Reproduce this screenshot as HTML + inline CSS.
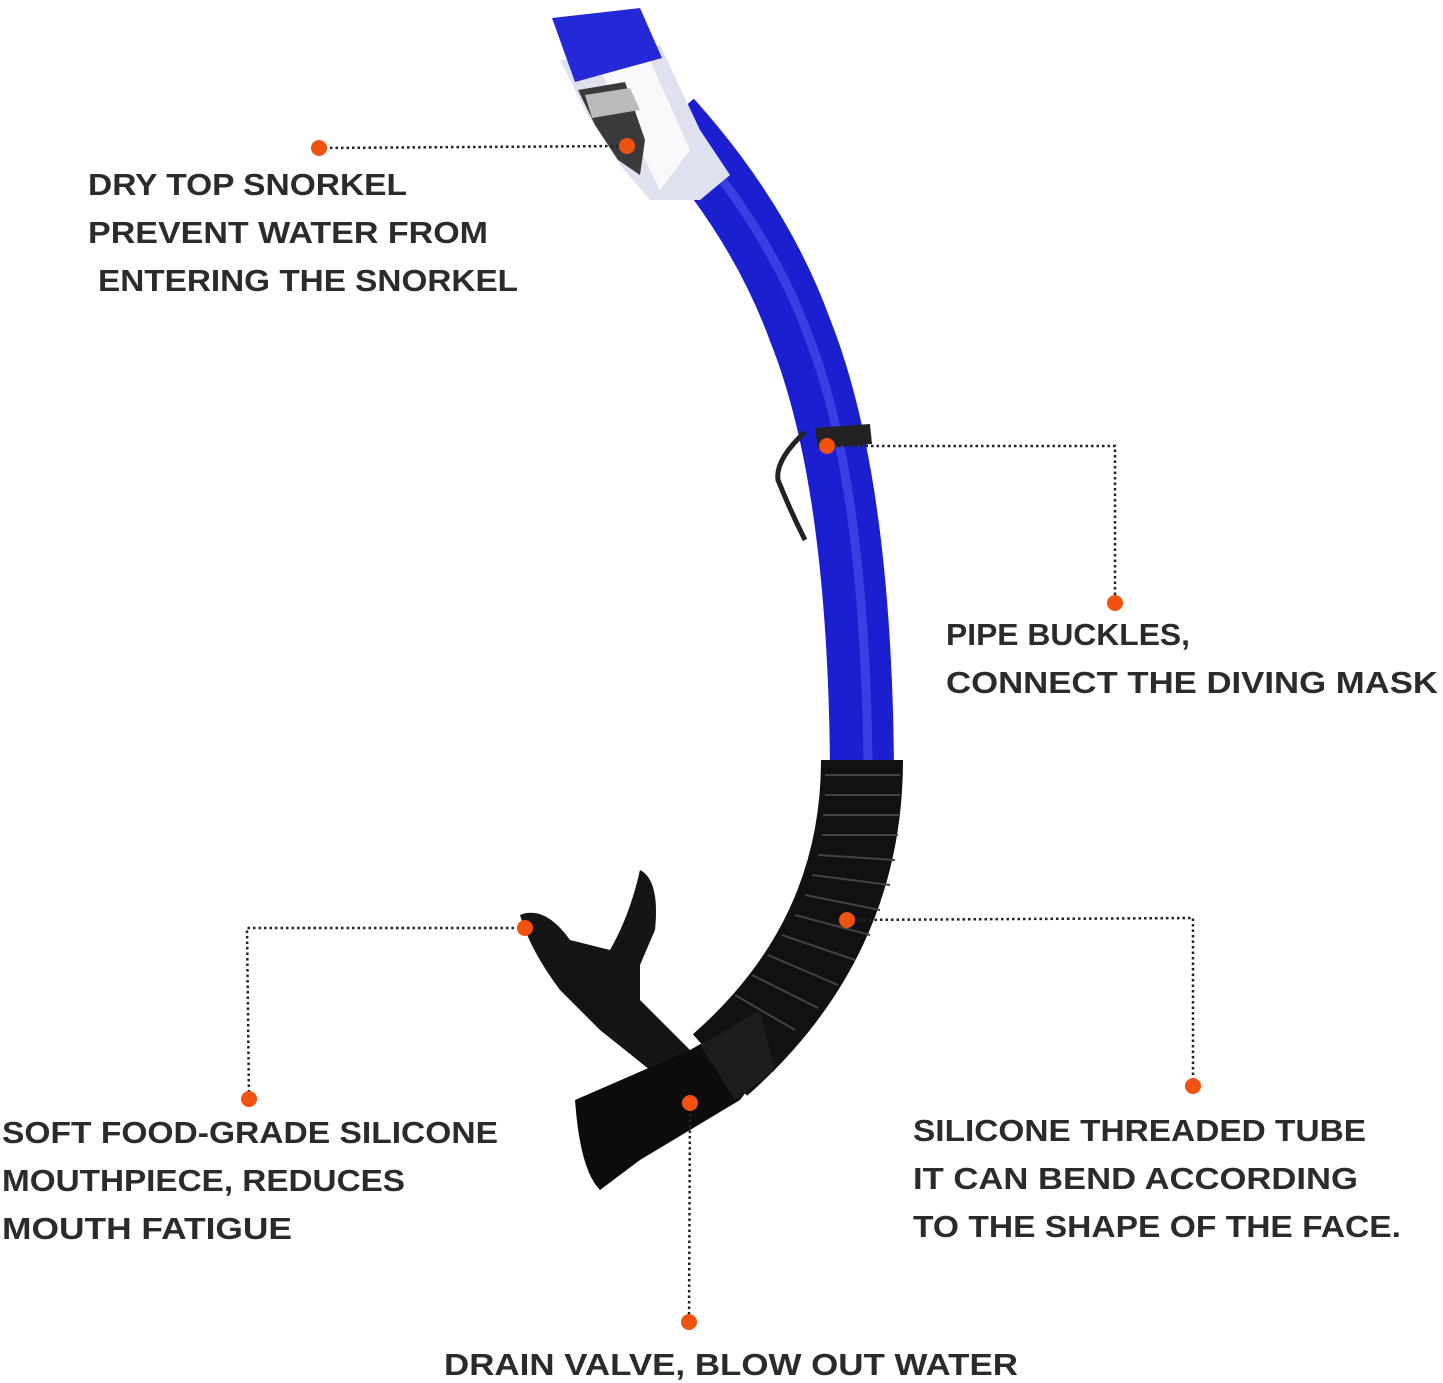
<!DOCTYPE html>
<html><head><meta charset="utf-8"><style>
html,body{margin:0;padding:0;background:#fff;}
svg{display:block;}
text{font-family:"Liberation Sans",sans-serif;font-weight:bold;font-size:31px;fill:#2b2b2b;}
</style></head><body>
<svg width="1443" height="1383" viewBox="0 0 1443 1383" xmlns="http://www.w3.org/2000/svg">
<!-- snorkel blue tube -->
<path d="M 670 120 Q 760 220 800 330 Q 860 480 862 770" stroke="#1c1fd0" stroke-width="64" fill="none" stroke-linecap="butt"/>
<path d="M 690 140 Q 772 235 810 340 Q 864 480 868 760" stroke="#4a55f0" stroke-width="9" fill="none" opacity="0.6"/>
<!-- dry top clear section -->
<path d="M 560 60 L 660 45 L 700 130 L 730 175 L 700 200 L 650 200 L 620 165 L 585 110 Z" fill="#dfe2ee"/>
<path d="M 600 70 L 650 60 L 690 150 L 660 190 Z" fill="#ffffff" opacity="0.8"/>
<path d="M 578 90 L 625 82 L 645 140 L 640 175 L 618 160 L 595 125 Z" fill="#3a3a3a"/>
<path d="M 585 95 L 630 88 L 640 110 L 592 118 Z" fill="#bbb"/>
<!-- blue cap -->
<path d="M 552 18 L 640 8 L 662 58 L 575 82 Z" fill="#2428d8"/>
<!-- buckle -->
<path d="M 815 428 L 870 424 L 872 444 L 818 448 Z" fill="#222"/>
<path d="M 805 432 Q 775 460 778 480 Q 790 510 805 540" stroke="#222" stroke-width="5" fill="none"/>
<!-- black corrugated -->
<path d="M 862 760 Q 862 940 720 1065" stroke="#111" stroke-width="82" fill="none"/>
<g stroke="#444" stroke-width="2">
<line x1="825" y1="775" x2="900" y2="775"/><line x1="825" y1="795" x2="900" y2="795"/>
<line x1="823" y1="815" x2="900" y2="815"/><line x1="822" y1="835" x2="898" y2="835"/>
<line x1="818" y1="855" x2="895" y2="860"/><line x1="812" y1="875" x2="890" y2="885"/>
<line x1="805" y1="895" x2="880" y2="910"/><line x1="795" y1="915" x2="870" y2="935"/>
<line x1="782" y1="935" x2="855" y2="960"/><line x1="768" y1="955" x2="838" y2="985"/>
<line x1="752" y1="975" x2="818" y2="1008"/><line x1="735" y1="995" x2="795" y2="1030"/>
</g>
<!-- mouthpiece -->
<path d="M 520 915 Q 545 905 570 940 L 610 950 Q 630 915 640 870 Q 660 880 655 930 L 640 965 L 640 1000 L 690 1050 L 650 1070 L 600 1030 L 560 990 Q 530 950 520 915 Z" fill="#151515"/>
<path d="M 690 1050 L 760 1010 L 770 1060 L 740 1100 L 640 1160 L 600 1190 Q 580 1170 575 1100 Z" fill="#0c0c0c"/>
<path d="M 700 1045 L 760 1010 L 775 1070 L 735 1100 Z" fill="#1d1d1d"/>
<!-- dotted connectors -->
<g stroke="#222" stroke-width="2.5" stroke-dasharray="2.5 3" fill="none">
<path d="M 319 148 L 627 146"/>
<path d="M 827 446 L 1115 446 L 1115 603"/>
<path d="M 525 928 L 247 928 L 249 1099"/>
<path d="M 847 920 L 1193 918 L 1193 1086"/>
<path d="M 690 1103 L 689 1322"/>
</g>
<g fill="#f0520f">
<circle cx="319" cy="148" r="8"/><circle cx="627" cy="146" r="8"/>
<circle cx="827" cy="446" r="8"/><circle cx="1115" cy="603" r="8"/>
<circle cx="525" cy="928" r="8"/><circle cx="249" cy="1099" r="8"/>
<circle cx="847" cy="920" r="8"/><circle cx="1193" cy="1086" r="8"/>
<circle cx="690" cy="1103" r="8"/><circle cx="689" cy="1322" r="8"/>
</g>
<!-- labels -->
<text x="88" y="195" textLength="319" lengthAdjust="spacingAndGlyphs">DRY TOP SNORKEL</text>
<text x="88" y="243" textLength="400" lengthAdjust="spacingAndGlyphs">PREVENT WATER FROM</text>
<text x="98" y="291" textLength="420" lengthAdjust="spacingAndGlyphs">ENTERING THE SNORKEL</text>
<text x="946" y="645" textLength="244" lengthAdjust="spacingAndGlyphs">PIPE BUCKLES,</text>
<text x="946" y="693" textLength="492" lengthAdjust="spacingAndGlyphs">CONNECT THE DIVING MASK</text>
<text x="2" y="1143" textLength="496" lengthAdjust="spacingAndGlyphs">SOFT FOOD-GRADE SILICONE</text>
<text x="2" y="1191" textLength="403" lengthAdjust="spacingAndGlyphs">MOUTHPIECE, REDUCES</text>
<text x="2" y="1239" textLength="290" lengthAdjust="spacingAndGlyphs">MOUTH FATIGUE</text>
<text x="913" y="1141" textLength="453" lengthAdjust="spacingAndGlyphs">SILICONE THREADED TUBE</text>
<text x="913" y="1189" textLength="445" lengthAdjust="spacingAndGlyphs">IT CAN BEND ACCORDING</text>
<text x="913" y="1237" textLength="488" lengthAdjust="spacingAndGlyphs">TO THE SHAPE OF THE FACE.</text>
<text x="444" y="1375" textLength="574" lengthAdjust="spacingAndGlyphs">DRAIN VALVE, BLOW OUT WATER</text>
</svg>
</body></html>
